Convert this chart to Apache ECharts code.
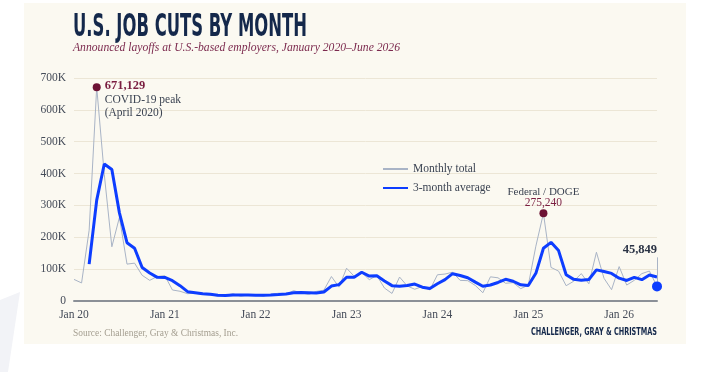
<!DOCTYPE html>
<html>
<head>
<meta charset="utf-8">
<script src="https://cdn.jsdelivr.net/npm/echarts@6/dist/echarts.min.js"></script>
<style>
  html, body { margin: 0; padding: 0; background: #ffffff; }
  #chart { width: 713px; height: 372px; }
</style>
</head>
<body>
<div id="chart"></div>
<script>
// month labels, Jan 2020 .. Jun 2026
const months = ['Jan', 'Feb', 'Mar', 'Apr', 'May', 'Jun', 'Jul', 'Aug', 'Sep', 'Oct', 'Nov', 'Dec'];
const years = ['20', '21', '22', '23', '24', '25', '26'];
const monthCount = 78;

// announced job cuts per month
const monthlyTotal = [
  67735, 56660, 222288, 671129, 397016, 170219, 262649, 115762, 118804, 80666, 64797, 77030,
  79552, 34531, 30603, 22913, 24586, 20476, 18942, 15723, 17895, 22822, 14875, 19052,
  19064, 15245, 21387, 24286, 20712, 32517, 25810, 20485, 29989, 33843, 76835, 43651,
  102943, 77770, 89703, 66995, 80089, 40709, 23697, 75151, 47457, 36836, 45510, 34817,
  82307, 84638, 90309, 64789, 63816, 48786, 25885, 75891, 72821, 55597, 57727, 38792,
  49795, 172017, 275240, 105441, 93816, 47999, 62075, 85979, 54064, 153074, 71321, 35553,
  108000, 50000, 65000, 86000, 94000, 45849
];

// 3-month average line (starts in March 2020)
const threeMonthAvg = [
  null, null, 115561, 316692, 430144, 412788, 276628, 182877, 165738, 105077, 88089, 74164,
  73793, 63704, 48229, 29349, 26034, 22658, 21335, 18380, 17520, 18813, 18531, 18916,
  17664, 17787, 18565, 20306, 22128, 25838, 26346, 26271, 25428, 28106, 46889, 51443,
  74476, 74788, 90139, 78156, 78929, 62598, 48165, 46519, 48768, 53148, 43268, 39054,
  54211, 67254, 85751, 79912, 72971, 59130, 46162, 50187, 58199, 68103, 62048, 50705,
  48771, 86868, 165684, 184233, 158166, 82419, 67963, 65351, 67373, 97706, 92820, 86649,
  71625, 64518, 74333, 67000, 81667, 75283
];

const yTicks = [0, 100000, 200000, 300000, 400000, 500000, 600000, 700000];

const covidIdx = 3;
const dogeIdx = 62;
const lastIdx = monthCount - 1;

const categories = [];
years.forEach(y => months.forEach(m => {
  if (categories.length < monthCount) categories.push(m + ' ' + y);
}));

const navy = '#14284b';
const maroon = '#6c1234';
const grayLine = '#a9b4c6';
const blue = '#0d3dff';
const serif = '"Liberation Serif", "DejaVu Serif", serif';
const condensed = '"DejaVu Sans Condensed", "Liberation Sans Narrow", "DejaVu Sans", sans-serif';

// squeeze a text to a given width
const measure = document.createElement('canvas').getContext('2d');
const fitScale = (text, font, width) => {
  measure.font = font;
  return width / measure.measureText(text).width;
};

const titleText = 'U.S. JOB CUTS BY MONTH';
const titleFont = 'bold 32px ' + condensed;
const brandText = 'CHALLENGER, GRAY & CHRISTMAS';
const brandFont = 'bold 11px ' + condensed;
const sourceText = 'Source: Challenger, Gray & Christmas, Inc.';
const sourceFont = '10px ' + serif;
const subText = 'Announced layoffs at U.S.-based employers, January 2020\u2013June 2026';
const subFont = 'italic 12px ' + serif;

const myChart = echarts.init(document.getElementById('chart'));

const option = {
  animation: false,
  backgroundColor: '#ffffff',
  graphic: [
    {
      type: 'polygon', z: -20, silent: true,
      shape: { points: [[0, 300], [20, 292], [8, 372], [0, 372]] },
      style: { fill: '#f2f3f7' }
    },
    {
      type: 'rect', z: -10, silent: true,
      shape: { x: 24, y: 3, width: 662, height: 341 },
      style: { fill: '#fbf9f1' }
    },
    {
      type: 'text', x: 73, y: 12, scaleX: fitScale(titleText, titleFont, 234),
      style: { text: titleText, font: titleFont, fill: navy, verticalAlign: 'top' }
    },
    {
      type: 'text', x: 73, y: 42, scaleX: fitScale(subText, subFont, 327),
      style: { text: subText, font: subFont, fill: '#7c2a4e', verticalAlign: 'top' }
    },
    {
      type: 'text', x: 73, y: 328, scaleX: fitScale(sourceText, sourceFont, 165),
      style: { text: sourceText, font: sourceFont, fill: '#a49e90', verticalAlign: 'top' }
    },
    {
      type: 'text', x: 531, y: 327, scaleX: fitScale(brandText, brandFont, 126),
      style: { text: brandText, font: brandFont, fill: navy, verticalAlign: 'top' }
    }
  ],
  legend: {
    orient: 'vertical',
    left: 377,
    top: 158,
    itemGap: 7,
    itemWidth: 25,
    itemHeight: 10,
    itemStyle: { opacity: 0 },
    textStyle: { fontFamily: serif, fontSize: 11.5, color: '#3b4352' },
    data: ['Monthly total', '3-month average']
  },
  grid: { left: 74, right: 56, top: 78, bottom: 71 },
  xAxis: {
    type: 'category',
    data: categories,
    boundaryGap: false,
    axisLine: { lineStyle: { color: '#8b9097', width: 2 } },
    axisTick: { show: false },
    axisLabel: {
      interval: 11,
      margin: 8,
      fontFamily: serif,
      fontSize: 11.5,
      color: '#444b58'
    },
    splitLine: { show: false }
  },
  yAxis: {
    type: 'value',
    min: yTicks[0],
    max: yTicks[yTicks.length - 1],
    interval: 100000,
    axisLine: { show: false },
    axisTick: { show: false },
    axisLabel: {
      margin: 8,
      fontFamily: serif,
      fontSize: 11.5,
      color: '#444b58',
      formatter: v => v === 0 ? '0' : (v / 1000) + 'K'
    },
    splitLine: { lineStyle: { color: '#ece6d6', width: 1 } }
  },
  series: [
    {
      name: 'Monthly total',
      type: 'line',
      data: monthlyTotal,
      symbol: 'none',
      z: 2,
      lineStyle: { color: grayLine, width: 1 },
      itemStyle: { color: grayLine },
      markLine: {
        silent: true,
        symbol: ['none', 'none'],
        label: { show: false },
        lineStyle: { color: grayLine, width: 1, type: 'solid' },
        data: [[{ coord: [lastIdx, monthlyTotal[lastIdx]] }, { coord: [lastIdx, 137000] }]]
      },
      markPoint: {
        silent: true,
        symbol: 'circle',
        data: [
          {
            coord: [covidIdx, monthlyTotal[covidIdx]],
            symbolSize: 8,
            itemStyle: { color: maroon },
            label: {
              show: true,
              position: [12, -5],
              align: 'left',
              verticalAlign: 'top',
              formatter: '{v|671,129}\n{t|COVID-19 peak}\n{t|(April 2020)}',
              rich: {
                v: { fontFamily: serif, fontSize: 12.5, fontWeight: 'bold', color: '#7a1d40', lineHeight: 16 },
                t: { fontFamily: serif, fontSize: 11.5, color: '#3b4352', lineHeight: 12.5 }
              }
            }
          },
          {
            coord: [dogeIdx, monthlyTotal[dogeIdx]],
            symbolSize: 8,
            itemStyle: { color: maroon },
            label: {
              show: true,
              position: 'top',
              distance: 0,
              formatter: '{t|Federal / DOGE}\n{v|275,240}',
              rich: {
                v: { fontFamily: serif, fontSize: 11.5, color: '#7a1d40', lineHeight: 12, align: 'center' },
                t: { fontFamily: serif, fontSize: 11, color: '#3b4352', lineHeight: 11, align: 'center' }
              }
            }
          },
          {
            coord: [lastIdx, monthlyTotal[lastIdx]],
            symbolSize: 10,
            itemStyle: { color: blue },
            label: {
              show: true,
              position: 'top',
              distance: 25,
              align: 'right',
              formatter: '45,849',
              fontFamily: serif,
              fontSize: 12.5,
              fontWeight: 'bold',
              color: '#2a3345'
            }
          }
        ]
      }
    },
    {
      name: '3-month average',
      type: 'line',
      data: threeMonthAvg,
      symbol: 'none',
      z: 3,
      lineStyle: { color: blue, width: 3 },
      itemStyle: { color: blue }
    }
  ]
};

option && myChart.setOption(option);
</script>
</body>
</html>
